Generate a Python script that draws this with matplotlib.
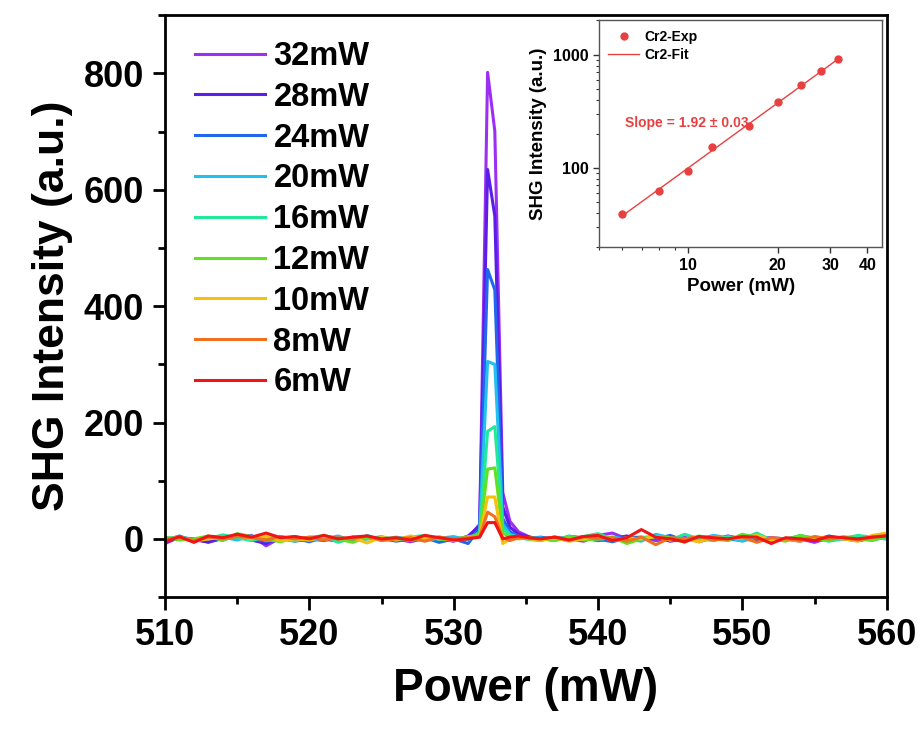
import numpy as np
import matplotlib
matplotlib.use("Agg")
import matplotlib.pyplot as plt
from matplotlib.ticker import MultipleLocator, LogLocator, FixedLocator, ScalarFormatter, NullFormatter

plt.rcParams['font.family'] = ['Liberation Sans', 'DejaVu Sans']
plt.rcParams['font.weight'] = 'bold'

# wavelength axis (labelled "Power (mW)" in the original)
x_nm = [510, 511, 512, 513, 514, 515, 516, 517, 518, 519, 520, 521, 522, 523, 524, 525,
        526, 527, 528, 529, 530, 531,
        531.8, 532.35, 532.85, 533.4, 533.9, 534.5, 535.2,
        536, 537, 538, 539, 540, 541, 542, 543, 544, 545, 546, 547, 548, 549, 550,
        551, 552, 553, 554, 555, 556, 557, 558, 559, 560]

p32 = [-8, 3, -2, -5, 0, 4, 6, -12, 2, -4, 0, -3, 2, -1, 4, -2, 0, -5, 1, 3, -2, 2,
       25, 802, 701, 80, 30, 12, 4,
       -2, 3, 0, -4, 6, 10, 0, 2, -3, 0, 3, -5, 2, 0, -3, 4, 1, -2, 0, -6, 2, 0, -3, 1, 4]
p28 = [-5, 2, 0, -6, 2, 5, -2, -8, 4, -3, 1, 0, -4, 3, 2, 0, -3, 2, -1, 0, -4, 5,
       22, 635, 555, 55, 20, 8, 3,
       0, -2, 4, 2, -3, 0, 5, -1, 3, -4, 0, 2, -2, 5, 0, -3, 2, 0, -4, 3, 0, 2, -2, 0, 3]
p24 = [-3, 5, -4, 2, -2, 6, 0, -4, -2, 1, -5, 3, 0, -2, 0, 3, -4, 0, 2, -6, 0, -8,
       18, 463, 428, 35, 12, 5, 0,
       3, 0, -2, 4, 0, -5, 2, 3, 0, 6, -3, 0, 4, -2, 2, 0, -4, 0, 2, -2, 5, 0, -3, 2, 0]
p20 = [2, 0, -3, 4, 3, -2, 5, -3, 0, 4, -2, 0, 5, -4, 6, -2, 3, 0, -3, 1, 4, -2,
       12, 305, 300, 25, 8, 3, 1,
       2, -3, 5, 0, -2, 3, 0, -4, 8, 2, -2, 0, 6, 2, -4, 3, 0, -2, 6, 0, -3, 2, 4, -2, 3]
p16 = [0, 4, -2, 0, 7, 2, -3, 4, 0, -4, 3, 5, -6, 2, 0, 4, -2, 3, 6, -1, 0, 3,
       8, 185, 193, 18, 6, 2, -1,
       -3, 2, 0, 4, 9, 0, -4, 2, 5, -2, 8, 0, -3, 4, 0, 10, -2, 0, 5, 2, -4, 0, 6, 3, 0]
p12 = [3, -2, 0, 5, -3, 9, 4, 0, -5, 2, -2, 6, 0, -6, 3, 0, 2, -3, 4, 0, -2, 4,
       6, 120, 122, 10, 3, 0, 2,
       0, -3, 4, -2, 0, 3, -8, 0, 4, 2, -6, 5, 0, -3, 8, 2, 0, -4, 6, 0, -2, 4, 0, -3, 5]
p10 = [-2, 3, -4, 0, 2, 6, 0, 4, -3, 0, -2, 4, 0, 2, -7, 3, -2, 5, 0, 2, -3, 2,
       5, 72, 72, -8, 0, 3, 0,
       -2, 2, -4, 0, 6, -3, 2, 0, 4, -2, 0, -5, 3, 0, 2, 6, -2, 0, -4, 3, 2, 0, -4, 6, 10]
p8 = [0, 2, -3, 3, 0, 4, 2, -2, 4, 0, 3, -2, 2, 0, 5, -3, 0, 2, -4, 3, 0, 2,
      4, 46, 38, 2, -3, 2, 1,
      0, 3, -2, 4, 0, 2, -4, 3, -10, 2, 0, 4, -2, 0, 3, -6, 2, 0, -3, 4, 0, 2, -2, 3, 6]
p6 = [-5, 4, -6, 5, 2, 8, 3, 10, 2, 4, 0, 6, 0, 3, 5, 0, 2, -2, 6, 2, -2, 0,
      3, 28, 28, 0, 3, 5, 2,
      0, 3, -2, 4, 6, -3, 2, 16, 3, 0, -5, 4, 2, 0, 4, 3, -8, 2, 0, -3, 4, 2, 0, 3, 5]

labels = ['32mW', '28mW', '24mW', '20mW', '16mW', '12mW', '10mW', '8mW', '6mW']
spectra = [p32, p28, p24, p20, p16, p12, p10, p8, p6]
colors = ['#9B30F2', '#5A1EE6', '#2266EE', '#22BFF0', '#22E89A', '#62E022',
          '#F6C10A', '#F07020', '#F01414']

# inset: power dependence
power = [6, 8, 10, 12, 16, 20, 24, 28, 32]
shg = [39.5, 63, 94, 152, 233, 379, 538, 719, 910]

fig = plt.figure(figsize=(9.24, 7.29), dpi=100)
ax = fig.add_axes([0.1786, 0.181, 0.781, 0.798])

for y, c, lab in zip(spectra, colors, labels):
    ax.plot(x_nm, y, color=c, lw=2.2, label=lab)

ax.set_xlim(510, 560)
ax.set_ylim(-100, 900)
ax.xaxis.set_major_locator(MultipleLocator(10))
ax.xaxis.set_minor_locator(MultipleLocator(5))
ax.yaxis.set_major_locator(FixedLocator([0, 200, 400, 600, 800]))
ax.yaxis.set_minor_locator(MultipleLocator(100))
ax.tick_params(which='major', direction='out', length=9, width=2, labelsize=26, pad=6)
ax.tick_params(which='minor', direction='out', length=5, width=2)
for s in ax.spines.values():
    s.set_linewidth(2)
for t in ax.get_xticklabels() + ax.get_yticklabels():
    t.set_fontweight('bold')
ax.set_xlabel('Power (mW)', fontsize=33, fontweight='bold', labelpad=10)
ax.set_ylabel('SHG Intensity (a.u.)', fontsize=32, fontweight='bold', labelpad=8)

leg = ax.legend(loc='upper left', bbox_to_anchor=(0.01, 0.995), frameon=False,
                prop={'size': 23.5, 'weight': 'bold'}, handlelength=2.15,
                handletextpad=0.25, labelspacing=0.3, borderaxespad=0.3)

# inset
ins = fig.add_axes([0.648, 0.661, 0.307, 0.311])
ins.set_xscale('log')
ins.set_yscale('log')
ins.plot(power, shg, 'o', color='#E84040', ms=5, label='Cr2-Exp')
k, b = np.polyfit(np.log10(power), np.log10(shg), 1)
xf = np.array([power[0], power[-1]])
ins.plot(xf, 10 ** (k * np.log10(xf) + b), '-', color='#E84040', lw=1, label='Cr2-Fit')
ins.set_xlim(5, 45)
ins.set_ylim(20, 2000)
ins.xaxis.set_major_locator(FixedLocator([10, 20, 30, 40]))
ins.xaxis.set_major_formatter(ScalarFormatter())
ins.xaxis.set_minor_locator(LogLocator(subs=np.arange(1, 10)))
ins.xaxis.set_minor_formatter(NullFormatter())
ins.yaxis.set_major_locator(FixedLocator([100, 1000]))
ins.yaxis.set_major_formatter(ScalarFormatter())
ins.yaxis.set_minor_locator(LogLocator(subs=np.arange(1, 10)))
ins.yaxis.set_minor_formatter(NullFormatter())
ins.tick_params(which='major', direction='out', length=4, width=1, labelsize=11.5, colors='#333333')
ins.tick_params(which='minor', direction='out', length=2, width=0.8, colors='#333333')
for t in ins.get_xticklabels() + ins.get_yticklabels():
    t.set_fontweight('bold')
    t.set_color('black')
for s in ins.spines.values():
    s.set_linewidth(1)
    s.set_color('#555555')
ins.set_xlabel('Power (mW)', fontsize=13.5, fontweight='bold')
ins.set_ylabel('SHG Intensity (a.u.)', fontsize=13.5, fontweight='bold')
ins.text(0.31, 0.546, 'Slope = 1.92 ± 0.03', transform=ins.transAxes, ha='center',
         va='center', color='#E84040', fontsize=10, fontweight='bold')
ins.legend(loc='upper left', frameon=False, prop={'size': 10, 'weight': 'bold'},
           handlelength=2.2, handletextpad=0.4, labelspacing=0.3, borderaxespad=0.3)

fig.savefig('out.png', dpi=100)
